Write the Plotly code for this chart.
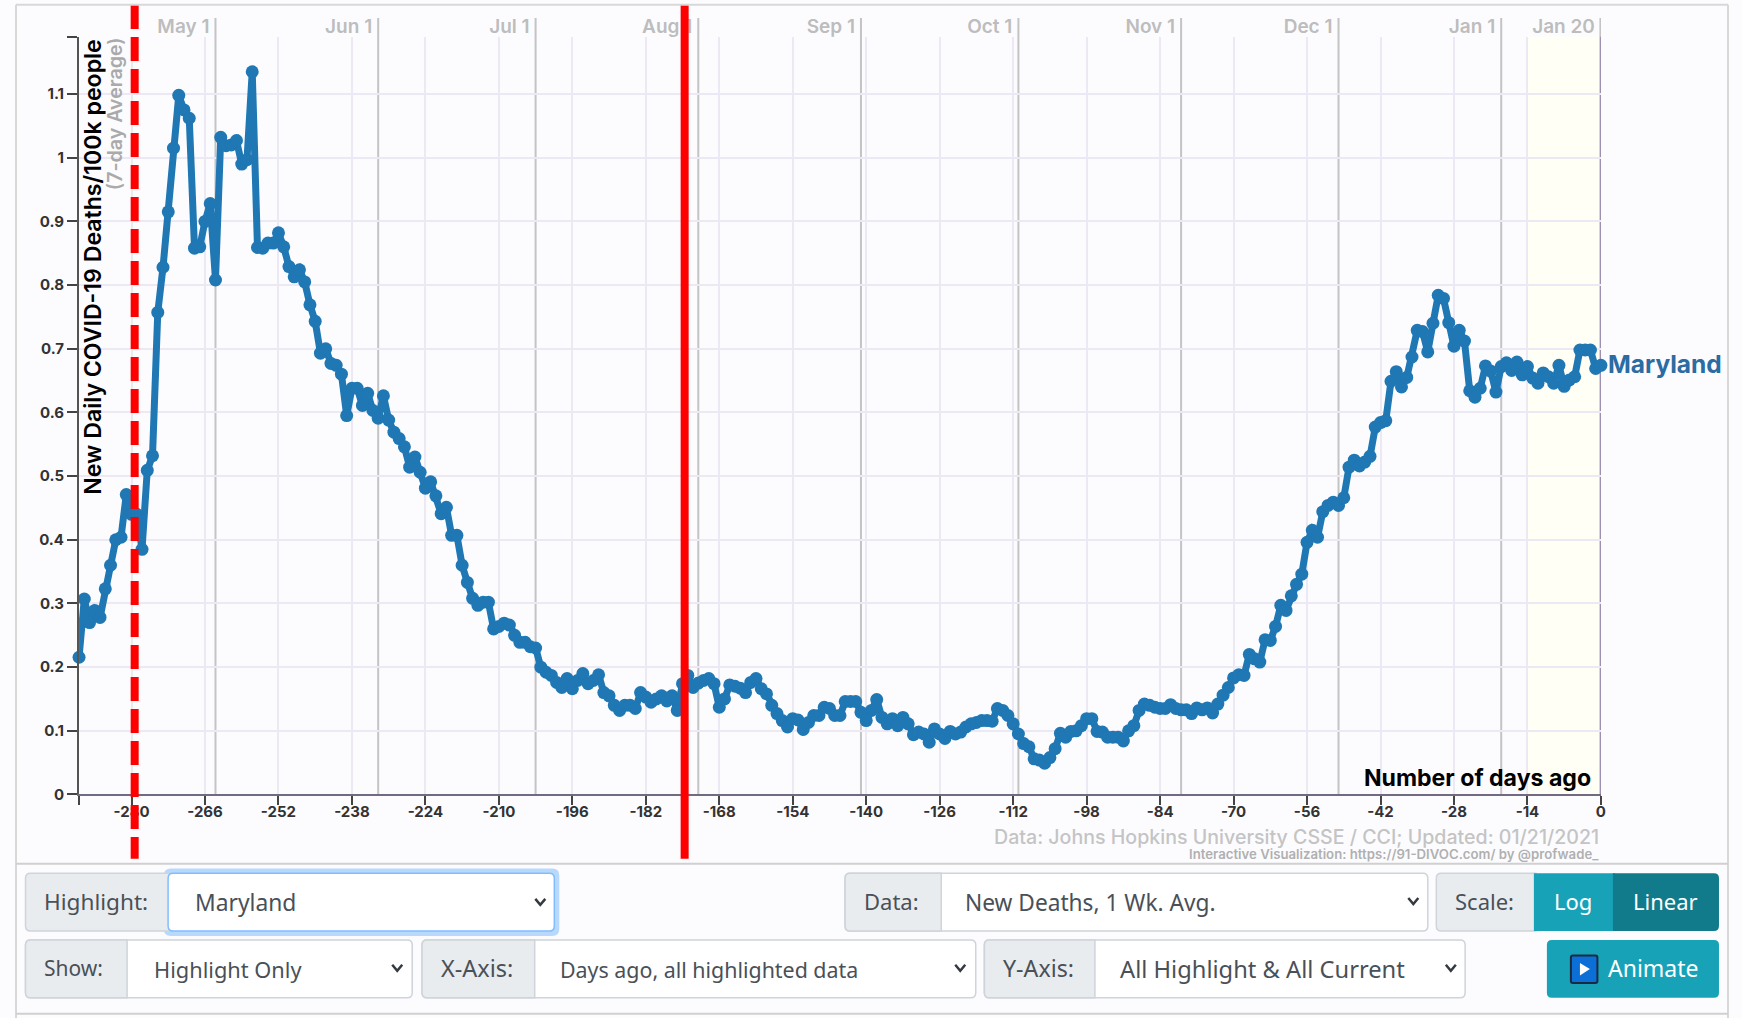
import plotly.graph_objects as go

# ---------- data ----------
series_name = "Maryland"
days_ago = list(range(-290, 1))
deaths_per_100k = [
    .2155, .307, .27, .289, .278, .323, .36, .40, .404, .471,
    .44, .44, .385, .509, .532, .757, .828, .915, 1.015, 1.098,
    1.075, 1.062, .858, .860, .90, .928, .808, 1.032, 1.019, 1.02,
    1.027, .99, .997, 1.135, .859, .858, .866, .866, .882, .86,
    .829, .813, .824, .805, .769, .743, .693, .70, .677, .674,
    .66, .595, .638, .638, .611, .63, .603, .591, .626, .588,
    .569, .559, .546, .514, .53, .506, .481, .491, .469, .441,
    .451, .407, .407, .36, .333, .308, .297, .302, .302, .26,
    .264, .269, .266, .25, .239, .239, .232, .23, .20, .192,
    .187, .176, .168, .182, .166, .179, .19, .174, .179, .188,
    .16, .155, .14, .132, .14, .14, .135, .16, .153, .145,
    .15, .155, .147, .155, .132, .174, .187, .168, .175, .179,
    .182, .174, .137, .15, .172, .17, .167, .16, .176, .182,
    .166, .158, .14, .127, .116, .106, .119, .117, .102, .113,
    .124, .124, .137, .135, .124, .124, .146, .146, .146, .129,
    .116, .132, .149, .121, .111, .119, .108, .121, .111, .094,
    .098, .095, .082, .103, .095, .088, .099, .095, .098, .106,
    .111, .113, .116, .116, .115, .135, .132, .124, .111, .095,
    .08, .075, .056, .054, .049, .058, .072, .096, .09, .099,
    .10, .108, .119, .119, .099, .098, .09, .09, .09, .084,
    .10, .108, .132, .142, .14, .137, .135, .135, .141, .135,
    .133, .133, .127, .136, .133, .136, .128, .142, .156, .168,
    .183, .188, .187, .22, .213, .208, .243, .242, .264, .297,
    .289, .312, .33, .346, .396, .415, .404, .444, .454, .459,
    .454, .466, .514, .525, .516, .522, .531, .577, .584, .587,
    .649, .664, .64, .655, .687, .729, .727, .695, .74, .784,
    .779, .741, .704, .729, .712, .634, .624, .638, .673, .665,
    .632, .672, .678, .666, .679, .659, .672, .654, .646, .662,
    .656, .646, .674, .641, .651, .656, .698, .698, .698, .669,
    .674,
]
y_ticks = [0, .1, .2, .3, .4, .5, .6, .7, .8, .9, 1, 1.1]
y_tick_text = ["0", "0.1", "0.2", "0.3", "0.4", "0.5", "0.6", "0.7", "0.8", "0.9", "1", "1.1"]
x_ticks = list(range(-280, 1, 14))
date_days = [-264, -233, -203, -172, -141, -111, -80, -50, -19, 0]
date_labels = ["May 1", "Jun 1", "Jul 1", "Aug 1", "Sep 1", "Oct 1", "Nov 1", "Dec 1", "Jan 1", "Jan 20"]
start_marker_day = -279.4
end_marker_day = -174.6
recent_window_day = -14

W, H = 1742, 1018
LAYOUT_W, LAYOUT_H = 1748, 1028
PLOT_L, PLOT_R, PLOT_T, PLOT_B = 79, 1600, 36.7, 793.7
Y_MAX = 1.19
BG = "#fcfcff"
MONT = "Inter"
UI = "Noto Sans"

def fx(x): return x / W
def fy(y): return 1 - y / H

shapes, annos = [], []

def rrect(x0, y0, x1, y1, fill, line=None, lw=1, r=5, left=True, right=True):
    X0, X1, Y0, Y1 = fx(x0), fx(x1), fy(y0), fy(y1)
    rx, ry = r / W, r / H
    rl = rx if left else 0; rly = ry if left else 0
    rr = rx if right else 0; rry = ry if right else 0
    p = (f"M {X0+rl} {Y0} L {X1-rr} {Y0} Q {X1} {Y0} {X1} {Y0-rry} "
         f"L {X1} {Y1+rry} Q {X1} {Y1} {X1-rr} {Y1} L {X0+rl} {Y1} "
         f"Q {X0} {Y1} {X0} {Y1+rly} L {X0} {Y0-rly} Q {X0} {Y0} {X0+rl} {Y0} Z")
    shapes.append(dict(type="path", xref="paper", yref="paper", path=p, fillcolor=fill,
                       line=dict(color=line or "rgba(0,0,0,0)", width=lw if line else 0)))

def chevron(cx, cy):
    p = f"M {fx(cx-5)} {fy(cy-3)} L {fx(cx)} {fy(cy+3)} L {fx(cx+5)} {fy(cy-3)}"
    shapes.append(dict(type="path", xref="paper", yref="paper", path=p,
                       line=dict(color="#343a40", width=2.5)))

def text(x, y, s, size=22, color="#495057", anchor="left", font=UI, weight=None, angle=0):
    f = dict(family=font, size=size, color=color)
    if weight: f["weight"] = weight
    if font == UI:
        y -= 1.5
        if anchor == "left": x -= 2.5
    annos.append(dict(x=fx(x), y=fy(y), xref="paper", yref="paper", text=s, showarrow=False,
                      xanchor=anchor, yanchor="middle", font=f, textangle=angle))

def hline(x0, x1, y, color, w=2):
    shapes.append(dict(type="line", xref="paper", yref="paper", x0=fx(x0), x1=fx(x1), y0=fy(y), y1=fy(y),
                       line=dict(color=color, width=w)))

def vline_px(x, y0, y1, color, w=2):
    shapes.append(dict(type="line", xref="paper", yref="paper", x0=fx(x), x1=fx(x), y0=fy(y0), y1=fy(y1),
                       line=dict(color=color, width=w)))

# ---------- plot furniture ----------
shapes.append(dict(type="rect", xref="x", yref="paper", x0=recent_window_day, x1=0,
                   y0=fy(PLOT_T), y1=fy(PLOT_B), fillcolor="#fffff5", line=dict(width=0), layer="below"))
for d in date_days:
    shapes.append(dict(type="line", xref="x", yref="paper", x0=d, x1=d, y0=fy(18), y1=fy(PLOT_B),
                       line=dict(color="rgba(150,150,150,0.55)", width=2 if d else 3), layer="between"))
shapes.append(dict(type="line", xref="x", yref="paper", x0=0, x1=0, y0=fy(PLOT_T), y1=fy(PLOT_B),
                   line=dict(color="#9d90b5", width=2), layer="between"))
for d, dash in ((start_marker_day, "24px,8px"), (end_marker_day, "solid")):
    shapes.append(dict(type="line", xref="x", yref="paper", x0=d, x1=d, y0=fy(5), y1=fy(858),
                       line=dict(color="#ff0000", width=8, dash=dash)))

# ---------- frame ----------
vline_px(16, 4.7, 1018, "#d8d8d8"); vline_px(1727, 4.7, 1018, "#d8d8d8")
hline(16, 1727, 4.7, "#d8d8d8"); hline(16, 1727, 863, "#d0d0d0"); hline(16, 1727, 1012.7, "#d0d0d0")

# ---------- control strip ----------
BOX, BORDER = "#e9ecef", "#ced4da"
R1T, R1B, R2T, R2B = 872.3, 930, 939, 996.7
def group(x0, xm, x1, top, bot, label, value, lx, vx, cx, lsize=22, vsize=22):
    rrect(x0, top, x1, bot, "#ffffff", BORDER, 1.5)
    rrect(x0, top, xm, bot, BOX, BORDER, 1.5, right=False)
    text(lx, (top + bot) / 2 + .5, label, size=lsize)
    text(vx, (top + bot) / 2 + 2, value, size=vsize)
    chevron(cx, (top + bot) / 2 - 1)

rrect(163.7, 867.7, 559, 935, "#b9d9fc", None, r=7)
rrect(25.5, R1T, 170, R1B, BOX, BORDER, 1.5, right=False)
rrect(168, R1T, 554, R1B, "#ffffff", "#80bdff", 1.5)
text(44.4, 902, "Highlight:", size=22.6); text(195, 903, series_name, size=22.8); chevron(540, 901)
group(844.6, 940.7, 1427, R1T, R1B, "Data:", "New Deaths, 1 Wk. Avg.", 864, 965, 1412.5, vsize=22.7)
rrect(1435.5, R1T, 1535, R1B, BOX, BORDER, 1.5, right=False)
text(1454.5, 902, "Scale:")
rrect(1533, R1T, 1614, R1B, "#17a2b8", right=False, left=False)
rrect(1612, R1T, 1718, R1B, "#117a8b", left=False)
text(1572, 902, "Log", color="#ffffff", anchor="center")
text(1665, 902, "Linear", color="#ffffff", anchor="center")
group(25.5, 127, 412, R2T, R2B, "Show:", "Highlight Only", 44.4, 154, 397, lsize=21, vsize=21.8)
group(421.8, 534.4, 975.2, R2T, R2B, "X-Axis:", "Days ago, all highlighted data", 441, 560.5, 959.7, lsize=23.5, vsize=21.4)
group(983.8, 1094.3, 1464.3, R2T, R2B, "Y-Axis:", "All Highlight &amp; All Current", 1003, 1120, 1450, lsize=23.2, vsize=23.7)
rrect(1546, R2T, 1718, R2B, "#17a2b8")
rrect(1570, 954.5, 1596.5, 982, "#0b6fd6", "#1b2a41", 2, r=2)
shapes.append(dict(type="path", xref="paper", yref="paper",
                   path=f"M {fx(1579)} {fy(962)} L {fx(1589)} {fy(968)} L {fx(1579)} {fy(974.5)} Z",
                   fillcolor="#ffffff", line=dict(width=0)))
text(1608, 968.5, "Animate", color="#ffffff", size=23)

# ---------- chart texts ----------
text(93.5, 267, "New Daily COVID-19 Deaths/100k people", size=23.1, color="#000000", anchor="center",
     font=MONT, weight=600, angle=-90)
text(115, 114, "(7-day Average)", size=19.6, color="#aaaaaa", anchor="center", font=MONT, weight=600, angle=-90)
text(1592, 777.7, "Number of days ago", size=23.1, color="#000000", anchor="right", font=MONT, weight=700)
text(1600, 835.7, "Data: Johns Hopkins University CSSE / CCI; Updated: 01/21/2021", size=19.6, color="#c4c4c4",
     anchor="right", font=MONT, weight=500)
text(1600, 853, "Interactive Visualization: https://91-DIVOC.com/ by @profwade_", size=13.2, color="#b0b0b0",
     anchor="right", font=MONT, weight=600)
annos.append(dict(x=days_ago[-1], y=deaths_per_100k[-1], xref="x", yref="y", text=series_name, showarrow=False,
                  xanchor="left", yanchor="middle", xshift=5, yshift=1,
                  font=dict(family=MONT, size=24.5, color="#2a6ca3", weight=700)))

fig = go.Figure()
fig.add_trace(go.Scatter(
    x=days_ago, y=deaths_per_100k, mode="lines+markers", cliponaxis=False, hoverinfo="skip",
    line=dict(color="#1f77b4", width=7), marker=dict(color="#1f77b4", size=13)))
fig.add_trace(go.Scatter(
    x=date_days, y=[0] * len(date_days), xaxis="x2", yaxis="y", mode="lines", hoverinfo="skip",
    line=dict(width=0), showlegend=False))

axis_font = dict(family=MONT, size=15, color="#333333", weight=700)
fig.update_layout(
    width=LAYOUT_W, height=LAYOUT_H, margin=dict(l=0, r=0, t=0, b=0), showlegend=False,
    paper_bgcolor=BG, plot_bgcolor="rgba(0,0,0,0)",
    shapes=shapes, annotations=annos,
    xaxis=dict(domain=[fx(PLOT_L), fx(PLOT_R)], range=[days_ago[0], 0], side="bottom", anchor="y",
               tickvals=[days_ago[0]] + x_ticks, ticktext=[""] + [str(v) for v in x_ticks],
               ticks="outside", ticklen=9, tickwidth=1.5, tickcolor="#444444", tickfont=axis_font,
               ticklabelstandoff=-6,
               showgrid=True, gridcolor="#ece8f4", gridwidth=1.5, zeroline=False,
               showline=True, linecolor="#716a80", linewidth=2),
    xaxis2=dict(domain=[fx(PLOT_L), fx(PLOT_R)], range=[days_ago[0], 0], side="top", anchor="y", overlaying="x",
                tickvals=date_days, ticktext=date_labels, ticks="", ticklabelposition="outside left",
                ticklabelshift=-6, ticklabelstandoff=-1,
                tickfont=dict(family=MONT, size=19, color="#bdbdbd", weight=600),
                showgrid=False, zeroline=False, showline=False),
    yaxis=dict(domain=[fy(PLOT_B), fy(PLOT_T)], range=[0, Y_MAX], anchor="x",
               tickvals=y_ticks + [Y_MAX], ticktext=y_tick_text + [""],
               ticks="outside", ticklen=10, tickwidth=1.5, tickcolor="#444444", tickfont=axis_font,
               showgrid=True, gridcolor="#ece8f4", gridwidth=1.5, zeroline=False,
               showline=True, linecolor="#555555", linewidth=2),
)
assert len(days_ago) == len(deaths_per_100k), len(deaths_per_100k)
fig.write_html("out.html", config={"displayModeBar": False},
               post_script="document.body.style.margin='0';document.documentElement.style.overflow='hidden';"
                           f"document.documentElement.style.background='{BG}';document.body.style.background='{BG}';")
